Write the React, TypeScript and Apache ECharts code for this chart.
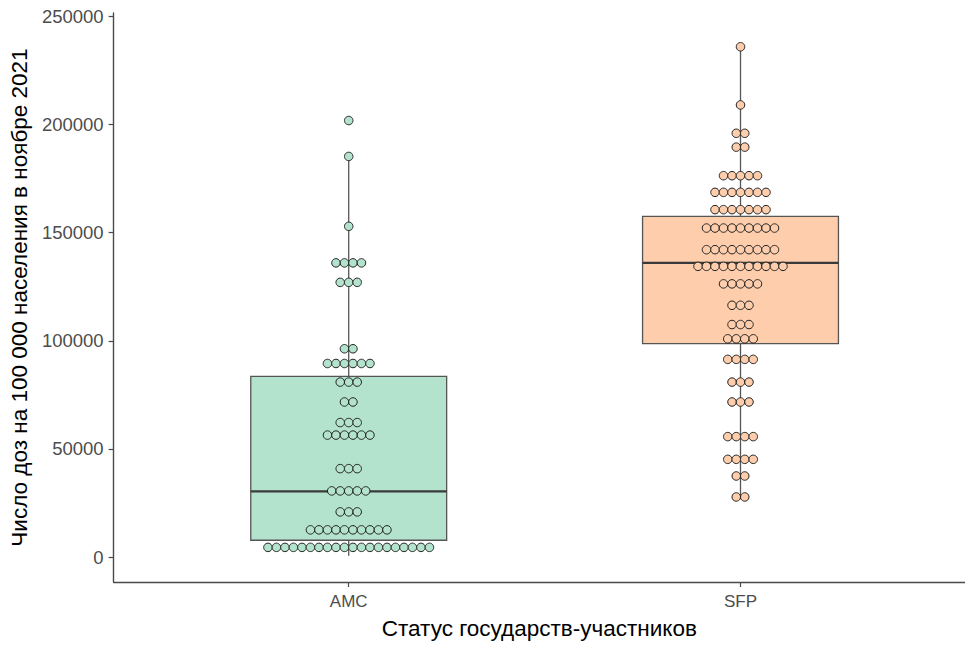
import React, { useEffect, useRef } from "react";
import * as echarts from "echarts";

// Groups on the x axis
const categories = ["AMC", "SFP"];

// Dot-plot bins: bin centre (doses per 100 000) and number of countries in each bin
const amcBinValues = [4500, 12600, 20900, 30600, 40900, 56400, 62200, 71700, 80900, 89500, 96300, 127000, 136000, 152900, 185200, 201800];
const amcBinCounts = [20, 10, 3, 5, 3, 6, 3, 2, 3, 6, 2, 3, 4, 1, 1, 1];

const sfpBinValues = [27800, 37500, 45200, 55700, 71700, 80900, 91400, 100900, 107500, 116400, 126300, 134400, 142100, 152100, 160600, 168600, 176300, 189500, 195900, 209000, 235900];
const sfpBinCounts = [2, 2, 4, 4, 3, 3, 4, 4, 3, 3, 5, 11, 9, 9, 7, 7, 5, 2, 2, 1, 1];

// Box statistics: [lower whisker, Q1, median, Q3, upper whisker]
const amcBox = [600, 7800, 30400, 83500, 185200];
const sfpBox = [27000, 98700, 136000, 157500, 235900];

// Y-axis tick values
const yTicks = [0, 50000, 100000, 150000, 200000, 250000];

const fills = ["#B3E2CD", "#FDCDAC"];
const FONT = "Liberation Sans";
const AXIS_COLOR = "#4a4a4a";
const BOX_WIDTH = 0.5; // in category units
const DOT_STEP = 0.0217; // horizontal spacing of stacked dots, in category units
const DOT_SIZE = 8.5;

// Spread each bin's dots symmetrically around the group centre
function stackDots(center: number, values: number[], counts: number[]) {
  const pts: number[][] = [];
  values.forEach((v, i) => {
    const n = counts[i];
    for (let k = 0; k < n; k++) {
      pts.push([center + (k - (n - 1) / 2) * DOT_STEP, v]);
    }
  });
  return pts;
}

export default function App() {
  const ref = useRef<HTMLDivElement>(null);

  useEffect(() => {
    document.body.style.margin = "0";
    const chart = echarts.init(ref.current!, null, { renderer: "svg" });

    const boxData = [
      [1, ...amcBox],
      [2, ...sfpBox],
    ];

    const option: any = {
      animation: false,
      textStyle: { fontFamily: FONT },
      grid: { left: 113, top: 13, right: 0, bottom: 62, containLabel: false },
      xAxis: {
        type: "value",
        min: 0.4,
        max: 2.573,
        splitLine: { show: false },
        axisLine: { show: true, onZero: false, lineStyle: { color: AXIS_COLOR, width: 1.4 } },
        axisTick: { show: true, customValues: [1, 2], length: 5, lineStyle: { color: AXIS_COLOR, width: 1.2 } },
        axisLabel: {
          customValues: [1, 2],
          formatter: (v: number) => categories[Math.round(v) - 1],
          color: "#4d4d4d",
          fontSize: 17,
          fontFamily: FONT,
          margin: 11,
        },
        name: "Статус государств-участников",
        nameLocation: "middle",
        nameGap: 35,
        nameTextStyle: { color: "#000", fontSize: 22.5, fontFamily: FONT },
      },
      yAxis: {
        type: "value",
        min: -11500,
        max: 251500,
        splitLine: { show: false },
        axisLine: { show: true, onZero: false, lineStyle: { color: AXIS_COLOR, width: 1.4 } },
        axisTick: { show: true, customValues: yTicks, length: 5, lineStyle: { color: AXIS_COLOR, width: 1.2 } },
        axisLabel: {
          customValues: yTicks,
          formatter: (v: number) => String(v),
          color: "#4d4d4d",
          fontSize: 18.5,
          fontFamily: FONT,
          margin: 10,
        },
        name: "Число доз на 100 000 населения в ноябре 2021",
        nameLocation: "middle",
        nameGap: 80,
        nameRotate: 90,
        nameTextStyle: { color: "#000", fontSize: 22.5, fontFamily: FONT },
      },
      series: [
        {
          type: "custom",
          silent: true,
          z: 2,
          data: boxData,
          encode: { x: 0, y: [1, 2, 3, 4, 5] },
          renderItem: (params: any, api: any) => {
            const x = api.value(0);
            const [cx, yMin] = api.coord([x, api.value(1)]);
            const yQ1 = api.coord([x, api.value(2)])[1];
            const yMed = api.coord([x, api.value(3)])[1];
            const yQ3 = api.coord([x, api.value(4)])[1];
            const yMax = api.coord([x, api.value(5)])[1];
            const half = api.size([BOX_WIDTH, 0])[0] / 2;
            return {
              type: "group",
              children: [
                { type: "line", shape: { x1: cx, y1: yMax, x2: cx, y2: yQ3 }, style: { stroke: "#555", lineWidth: 1.3 } },
                { type: "line", shape: { x1: cx, y1: yQ1, x2: cx, y2: yMin }, style: { stroke: "#555", lineWidth: 1.3 } },
                {
                  type: "rect",
                  shape: { x: cx - half, y: yQ3, width: half * 2, height: yQ1 - yQ3 },
                  style: { fill: fills[params.dataIndex], stroke: "#555", lineWidth: 1.3 },
                },
                { type: "line", shape: { x1: cx - half, y1: yMed, x2: cx + half, y2: yMed }, style: { stroke: "#3a3a3a", lineWidth: 2.4 } },
              ],
            };
          },
        },
        {
          type: "scatter",
          silent: true,
          z: 3,
          symbol: "circle",
          symbolSize: DOT_SIZE,
          itemStyle: { color: fills[0], borderColor: "#222", borderWidth: 1, opacity: 1 },
          data: stackDots(1, amcBinValues, amcBinCounts),
        },
        {
          type: "scatter",
          silent: true,
          z: 3,
          symbol: "circle",
          symbolSize: DOT_SIZE,
          itemStyle: { color: fills[1], borderColor: "#222", borderWidth: 1, opacity: 1 },
          data: stackDots(2, sfpBinValues, sfpBinCounts),
        },
      ],
    };

    chart.setOption(option);
    return () => chart.dispose();
  }, []);

  return <div ref={ref} style={{ width: 965, height: 645 }} />;
}
